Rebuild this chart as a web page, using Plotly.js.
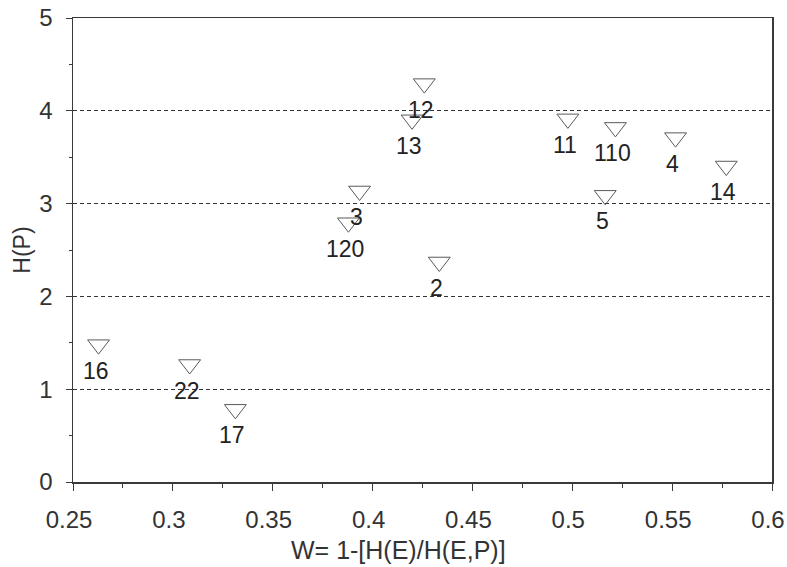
<!DOCTYPE html>
<html>
<head>
<meta charset="utf-8">
<script src="https://cdn.plot.ly/plotly-3.0.1.min.js"></script>
<style>html,body{margin:0;padding:0;background:#fff;}#chart{width:787px;height:567px;}</style>
</head>
<body>
<div id="chart"></div>
<script>
const labels = ["16", "22", "17", "120", "3", "2", "13", "12", "11", "5", "110", "4", "14"];
const wValues = [0.2628, 0.3084, 0.3313, 0.3879, 0.3935, 0.4334, 0.4198, 0.4259, 0.4978, 0.5165, 0.5216, 0.5517, 0.5771];
const hpValues = [1.48, 1.266, 0.783, 2.794, 3.136, 2.371, 3.903, 4.293, 3.913, 3.089, 3.821, 3.711, 3.405];
const xTicks = [0.25, 0.3, 0.35, 0.4, 0.45, 0.5, 0.55, 0.6];
const xTickText = ["0.25", "0.3", "0.35", "0.4", "0.45", "0.5", "0.55", "0.6"];
const yTicks = [0, 1, 2, 3, 4, 5];
const xTitle = "W= 1-[H(E)/H(E,P)]";
const yTitle = "H(P)";

const FONT = "Liberation Sans, Arial, sans-serif";
const AX = "#3a3a3a";

const trace = {
  x: wValues, y: hpValues, mode: "markers", type: "scatter",
  marker: {symbol: "triangle-down-open", size: 19, color: "#5a5a5a", line: {width: 1, color: "#5a5a5a"}},
  hoverinfo: "skip"
};

const annotations = labels.map((t, i) => ({
  x: wValues[i], y: hpValues[i], text: t, showarrow: false,
  xshift: -3, yshift: -26, font: {family: FONT, size: 23, color: "#222"}
}));
// x-axis title (placed slightly left of centre, as in the reference)
annotations.push({
  xref: "paper", yref: "paper", x: 0.465, y: -0.147, xanchor: "center", yanchor: "middle",
  text: xTitle, showarrow: false, font: {family: FONT, size: 25, color: "#333"}
});

const layout = {
  width: 787, height: 567,
  margin: {l: 73, r: 15, t: 18, b: 85},
  paper_bgcolor: "#fff", plot_bgcolor: "#fff",
  showlegend: false,
  font: {family: FONT, color: "#333"},
  xaxis: {
    range: [0.25, 0.6], tickmode: "array", tickvals: xTicks, ticktext: xTickText,
    showline: true, mirror: true, linecolor: AX, linewidth: 1.5,
    ticks: "outside", ticklen: 7, tickwidth: 1, tickcolor: AX,
    minor: {dtick: 0.025, tick0: 0.25, ticks: "outside", ticklen: 4, tickcolor: AX, showgrid: false},
    showgrid: false, zeroline: false,
    tickfont: {family: FONT, size: 24, color: "#333"},
    ticklabelstandoff: 9, ticklabelshift: -4, ticklabeloverflow: "allow",
    automargin: false
  },
  yaxis: {
    range: [0, 5], tickmode: "array", tickvals: yTicks,
    showline: true, mirror: true, linecolor: AX, linewidth: 1.5,
    ticks: "outside", ticklen: 6, tickwidth: 1, tickcolor: AX,
    minor: {dtick: 0.5, ticks: "outside", ticklen: 3, tickcolor: AX, showgrid: false},
    showgrid: true, gridcolor: "#333", griddash: "4px,3px", gridwidth: 1,
    zeroline: false,
    tickfont: {family: FONT, size: 24, color: "#333"},
    ticklabelstandoff: 8,
    title: {text: yTitle, font: {family: FONT, size: 23, color: "#333"}, standoff: 2}
  },
  annotations: annotations
};

Plotly.newPlot("chart", [trace], layout, {staticPlot: true, displayModeBar: false});
</script>
</body>
</html>
